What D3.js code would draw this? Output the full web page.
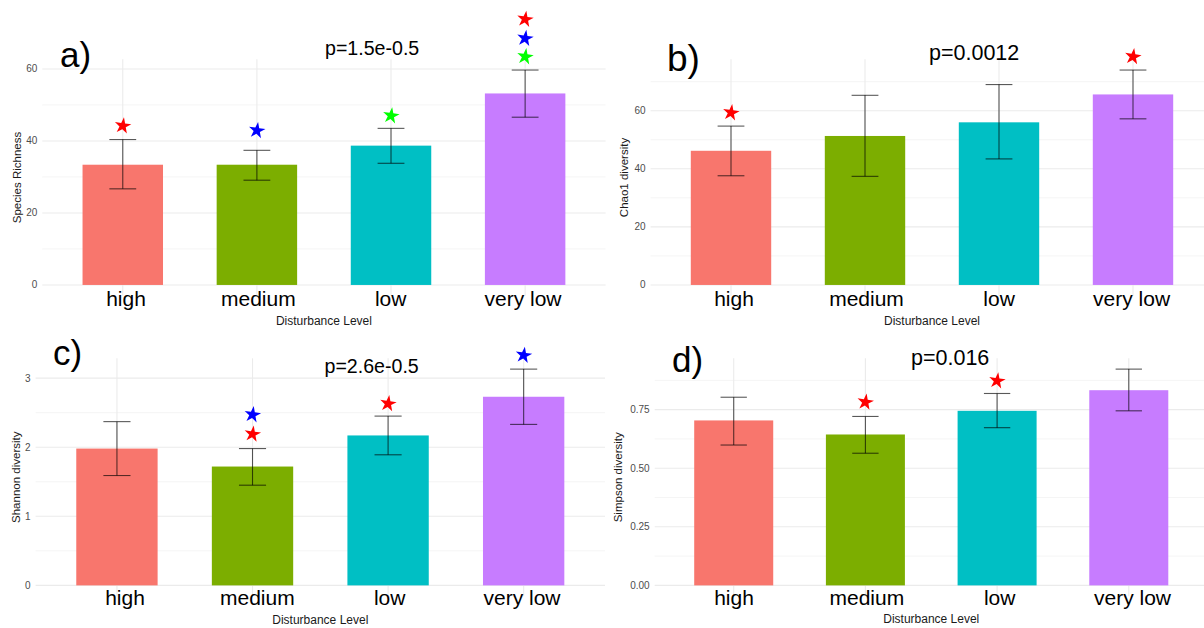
<!DOCTYPE html>
<html>
<head>
<meta charset="utf-8">
<script src="https://cdn.jsdelivr.net/npm/d3@7"></script>
<style>
  html, body { margin: 0; padding: 0; background: #fff; }
  svg { display: block; font-family: "Liberation Sans", Arial, sans-serif; }
</style>
</head>
<body>
<svg id="chart" width="1204" height="628"></svg>
<script>
// ---------- DATA ----------
const categories = ["high", "medium", "low", "very low"];
const barColors = ["#F8766D", "#7CAE00", "#00BFC4", "#C77CFF"];

const richnessMean = [33.4, 33.4, 38.7, 53.2];
const richnessLow  = [26.7, 29.1, 33.8, 46.6];
const richnessHigh = [40.4, 37.4, 43.5, 59.7];
const richnessTicks = [0, 20, 40, 60];
const richnessStarCats   = ["high", "medium", "low", "very low", "very low", "very low"];
const richnessStarValues = [44.2, 42.9, 47.0, 63.4, 68.5, 73.8];
const richnessStarColors = ["#ff0000", "#0000ff", "#00ff00", "#00ff00", "#0000ff", "#ff0000"];

const chao1Mean = [46.2, 51.3, 56.0, 65.6];
const chao1Low  = [37.6, 37.4, 43.4, 57.2];
const chao1High = [54.7, 65.3, 69.0, 74.0];
const chao1Ticks = [0, 20, 40, 60];
const chao1StarCats   = ["high", "very low"];
const chao1StarValues = [59.3, 78.6];
const chao1StarColors = ["#ff0000", "#ff0000"];

const shannonMean = [1.98, 1.72, 2.17, 2.73];
const shannonLow  = [1.59, 1.45, 1.89, 2.33];
const shannonHigh = [2.37, 1.98, 2.45, 3.13];
const shannonTicks = [0, 1, 2, 3];
const shannonStarCats   = ["medium", "medium", "low", "very low"];
const shannonStarValues = [2.19, 2.47, 2.63, 3.33];
const shannonStarColors = ["#ff0000", "#0000ff", "#ff0000", "#0000ff"];

const simpsonMean = [0.704, 0.644, 0.745, 0.833];
const simpsonLow  = [0.599, 0.564, 0.673, 0.745];
const simpsonHigh = [0.803, 0.721, 0.819, 0.923];
const simpsonTicks = [0, 0.25, 0.5, 0.75];
const simpsonStarCats   = ["medium", "low"];
const simpsonStarValues = [0.782, 0.873];
const simpsonStarColors = ["#ff0000", "#ff0000"];

const yTitles = ["Species Richness", "Chao1 diversity", "Shannon diversity", "Simpson diversity"];
const tags = ["a)", "b)", "c)", "d)"];
const pLabels = ["p=1.5e-0.5", "p=0.0012", "p=2.6e-0.5", "p=0.016"];
const xTitle = "Disturbance Level";

// ---------- LAYOUT ----------
const panels = [
  { mean: richnessMean, lo: richnessLow, hi: richnessHigh, ticks: richnessTicks, fmt: d3.format("d"),
    starCats: richnessStarCats, starVals: richnessStarValues, starCols: richnessStarColors,
    left: 42.3, right: 605.6, top: 59.3, bottom: 295.7, labelRange: [126, 523], labelY: 306,
    xTitleY: 325, yTitleX: 17, tagX: 60, tagY: 67, tagSize: 35, pX: 325, pY: 55, pSize: 19.6 },
  { mean: chao1Mean, lo: chao1Low, hi: chao1High, ticks: chao1Ticks, fmt: d3.format("d"),
    starCats: chao1StarCats, starVals: chao1StarValues, starCols: chao1StarColors,
    left: 650.6, right: 1213.4, top: 59.3, bottom: 295.7, labelRange: [734, 1131.6], labelY: 306,
    xTitleY: 325, yTitleX: 624, tagX: 667, tagY: 71, tagSize: 37, pX: 929, pY: 60, pSize: 21.5 },
  { mean: shannonMean, lo: shannonLow, hi: shannonHigh, ticks: shannonTicks, fmt: d3.format("d"),
    starCats: shannonStarCats, starVals: shannonStarValues, starCols: shannonStarColors,
    left: 35.6, right: 605, top: 358.3, bottom: 596.2, labelRange: [125, 522], labelY: 604.5,
    xTitleY: 623.5, yTitleX: 16, tagX: 53, tagY: 365, tagSize: 35, pX: 324.5, pY: 373, pSize: 19.6 },
  { mean: simpsonMean, lo: simpsonLow, hi: simpsonHigh, ticks: simpsonTicks, fmt: d3.format(".2f"),
    starCats: simpsonStarCats, starVals: simpsonStarValues, starCols: simpsonStarColors,
    left: 654.7, right: 1207.8, top: 358.3, bottom: 596.2, labelRange: [734, 1132.5], labelY: 605,
    xTitleY: 623, yTitleX: 618, tagX: 672, tagY: 371.5, tagSize: 35, pX: 911, pY: 365, pSize: 21.5 }
];

const svg = d3.select("#chart");

panels.forEach((p, i) => {
  const g = svg.append("g");
  const maxV = d3.max(p.hi);
  const y = d3.scaleLinear().domain([-0.05 * maxV, 1.05 * maxV]).range([p.bottom, p.top]);
  const x = d3.scaleBand().domain(categories).range([p.left, p.right]).paddingInner(0.4).paddingOuter(0.3);
  const xc = c => x(c) + x.bandwidth() / 2;
  const xl = d3.scalePoint().domain(categories).range(p.labelRange);
  const step = x.step();

  // minor gridlines
  const tStep = p.ticks[1] - p.ticks[0];
  const minor = d3.range(p.ticks[0] + tStep / 2, y.domain()[1], tStep);
  g.selectAll(".minor").data(minor).join("line")
    .attr("x1", p.left).attr("x2", p.right)
    .attr("y1", d => y(d)).attr("y2", d => y(d))
    .attr("stroke", "#f3f3f3").attr("stroke-width", 0.8);
  // major gridlines
  g.selectAll(".major").data(p.ticks).join("line")
    .attr("x1", p.left).attr("x2", p.right)
    .attr("y1", d => y(d)).attr("y2", d => y(d))
    .attr("stroke", "#ebebeb").attr("stroke-width", 1.1);
  // vertical gridlines
  g.selectAll(".vgrid").data(categories).join("line")
    .attr("x1", d => xc(d)).attr("x2", d => xc(d))
    .attr("y1", p.top).attr("y2", p.bottom)
    .attr("stroke", "#ebebeb").attr("stroke-width", 1.1);

  // bars
  g.selectAll(".bar").data(categories).join("rect")
    .attr("x", d => x(d)).attr("width", x.bandwidth())
    .attr("y", (d, j) => y(p.mean[j]))
    .attr("height", (d, j) => y(0) - y(p.mean[j]))
    .attr("fill", (d, j) => barColors[j]);

  // error bars
  const cap = step * 0.1;
  const eb = g.selectAll(".eb").data(categories).join("g")
    .attr("stroke", "#000").attr("stroke-opacity", 0.65).attr("stroke-width", 1.1);
  eb.append("line").attr("x1", d => xc(d)).attr("x2", d => xc(d))
    .attr("y1", (d, j) => y(p.lo[j])).attr("y2", (d, j) => y(p.hi[j]));
  eb.append("line").attr("x1", d => xc(d) - cap).attr("x2", d => xc(d) + cap)
    .attr("y1", (d, j) => y(p.hi[j])).attr("y2", (d, j) => y(p.hi[j]));
  eb.append("line").attr("x1", d => xc(d) - cap).attr("x2", d => xc(d) + cap)
    .attr("y1", (d, j) => y(p.lo[j])).attr("y2", (d, j) => y(p.lo[j]));

  // y tick labels
  g.selectAll(".ytl").data(p.ticks).join("text")
    .attr("x", p.left - 5).attr("y", d => y(d))
    .attr("dy", "0.35em").attr("text-anchor", "end")
    .attr("font-size", 10).attr("fill", "#4d4d4d")
    .text(d => p.fmt(d));

  // x tick labels
  g.selectAll(".xtl").data(categories).join("text")
    .attr("x", d => xl(d)).attr("y", p.labelY)
    .attr("text-anchor", "middle").attr("font-size", 21).attr("fill", "#000")
    .text(d => d);

  // axis titles
  g.append("text").attr("x", (p.left + p.right) / 2).attr("y", p.xTitleY)
    .attr("text-anchor", "middle").attr("font-size", 12).attr("fill", "#1a1a1a")
    .text(xTitle);
  g.append("text")
    .attr("transform", `translate(${p.yTitleX},${(p.top + p.bottom) / 2}) rotate(-90)`)
    .attr("dy", "0.35em").attr("text-anchor", "middle")
    .attr("font-size", 11.5).attr("fill", "#1a1a1a")
    .text(yTitles[i]);

  // tag and p-value
  g.append("text").attr("x", p.tagX).attr("y", p.tagY)
    .attr("font-size", p.tagSize).attr("fill", "#000").text(tags[i]);
  g.append("text").attr("x", p.pX).attr("y", p.pY)
    .attr("font-size", p.pSize).attr("fill", "#000").text(pLabels[i]);

  // stars
  const star = d3.symbol().type(d3.symbolStar).size(85);
  g.selectAll(".star").data(p.starCats).join("path")
    .attr("d", star)
    .attr("transform", (d, j) => `translate(${xc(d)},${y(p.starVals[j])}) rotate(8)`)
    .attr("fill", (d, j) => p.starCols[j]);
});
</script>
</body>
</html>
